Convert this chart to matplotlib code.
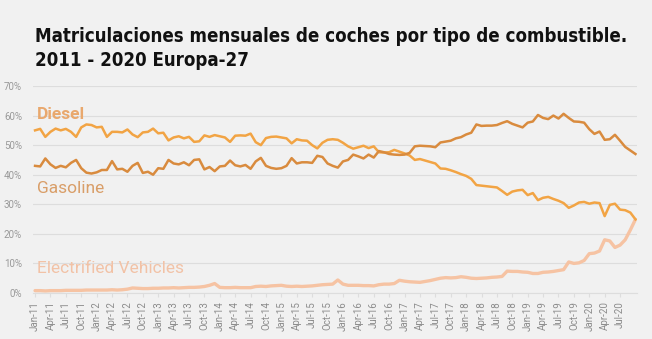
import matplotlib.pyplot as plt
import matplotlib.ticker as ticker
from matplotlib import font_manager
import numpy as np

# Monthly share (%) of new car registrations, Jan-11 .. Oct-20
diesel = [
    55.0, 55.5, 52.8, 54.5, 55.6, 55.0, 55.5, 54.5, 52.8, 56.0, 57.0, 56.8,
    56.0, 56.2, 52.8, 54.5, 54.5, 54.3, 55.3, 53.6, 52.7, 54.3, 54.5, 55.6,
    54.0, 54.2, 51.6, 52.6, 53.0, 52.3, 52.8, 51.1, 51.3, 53.3, 52.8, 53.4,
    53.0, 52.6, 51.1, 53.2, 53.3, 53.2, 53.9, 51.0, 50.0, 52.4, 52.8, 52.9,
    52.6, 52.3, 50.6, 52.0, 51.6, 51.5, 50.0, 48.9, 50.8, 51.8, 52.0, 51.8,
    50.8, 49.6, 48.8, 49.3, 49.8, 49.0, 49.6, 47.6, 47.5, 47.6, 48.4, 47.8,
    47.2, 46.5, 45.0, 45.3, 44.8, 44.3, 43.8, 42.1, 42.0, 41.5, 40.9, 40.2,
    39.6, 38.6, 36.5, 36.3, 36.1, 35.9, 35.7, 34.5, 33.2, 34.3, 34.7, 34.9,
    33.1, 33.8, 31.4, 32.2, 32.5, 31.8, 31.2, 30.4, 28.8, 29.6, 30.6, 30.8,
    30.2, 30.6, 30.4, 26.0, 29.8, 30.2, 28.2, 28.0, 27.2, 24.9,
]
gasoline = [
    43.0, 42.8, 45.5, 43.5, 42.3, 43.0, 42.5, 44.0, 45.0, 42.2, 40.7, 40.4,
    40.8, 41.6, 41.6, 44.6, 41.8, 42.0, 41.0, 43.0, 44.0, 40.6, 41.0, 40.0,
    42.2, 42.0, 45.0, 43.8, 43.5, 44.2, 43.2, 45.0, 45.2, 41.8, 42.6, 41.2,
    42.8, 43.0, 44.8, 43.2, 42.8, 43.3, 42.0, 44.5, 45.7, 43.0, 42.3, 42.0,
    42.2, 43.0, 45.6, 43.8, 44.2, 44.2, 44.0, 46.4, 46.0, 43.8, 43.0, 42.4,
    44.5, 45.0, 46.8, 46.2, 45.5, 46.8, 45.8, 48.0, 47.6, 47.0, 46.8, 46.7,
    46.8, 47.4, 49.6, 49.8, 49.7, 49.6, 49.3, 50.9, 51.2, 51.5, 52.3, 52.7,
    53.6, 54.2, 57.0, 56.5, 56.6, 56.6, 56.8, 57.5, 58.1, 57.2, 56.6, 56.0,
    57.6, 58.0, 60.2, 59.2, 58.8, 60.0, 59.0, 60.6, 59.2, 58.0, 57.9, 57.6,
    55.4, 53.8, 54.6, 51.8, 52.0, 53.5, 51.5, 49.4, 48.2, 47.0,
]
electrified = [
    0.8, 0.8, 0.7, 0.8, 0.8, 0.8, 0.9, 0.9, 0.9, 0.9, 1.0, 1.0,
    1.0, 1.0, 1.0, 1.1, 1.0, 1.1, 1.3, 1.7, 1.6, 1.5, 1.5, 1.6,
    1.6, 1.7, 1.7, 1.8, 1.7, 1.8, 1.9, 1.9, 2.0, 2.2, 2.6, 3.2,
    1.9, 1.8, 1.8, 1.9, 1.8, 1.8, 1.8, 2.2, 2.3, 2.2, 2.4, 2.5,
    2.6, 2.3, 2.2, 2.3, 2.2, 2.3, 2.4, 2.6, 2.8, 2.9, 3.0, 4.4,
    3.0, 2.6, 2.6, 2.6, 2.5, 2.5, 2.4, 2.8, 3.0, 3.0, 3.2, 4.3,
    4.0, 3.8, 3.7, 3.6, 3.9, 4.2, 4.6, 5.0, 5.2, 5.1, 5.2, 5.5,
    5.3, 5.0, 4.9, 5.0, 5.1, 5.3, 5.4, 5.6, 7.4, 7.3, 7.3, 7.1,
    7.0, 6.6, 6.6, 7.0, 7.1, 7.3, 7.6, 7.9, 10.5, 10.0, 10.2, 11.0,
    13.3, 13.5, 14.2, 18.0, 17.6, 15.4, 16.2, 18.0, 21.3, 24.9,
]

months = ["Jan", "Apr", "Jul", "Oct"]
years = list(range(11, 21))
tick_labels = [f"{m}-{y}" for y in years for m in months][:-1]  # up to Jul-20

x = np.arange(len(diesel))


def pick_title_font():
    # the original uses a condensed heavy face; look for any narrow/condensed bold font
    fonts = font_manager.fontManager.ttflist
    for f in fonts:
        if f.name == "Liberation Sans Narrow" and f.weight in ("bold", 700):
            return font_manager.FontProperties(fname=f.fname)
    for f in fonts:
        if ("Condensed" in f.fname or "Narrow" in f.fname) and "Bold" in f.fname:
            return font_manager.FontProperties(fname=f.fname)
    return font_manager.FontProperties(family="DejaVu Sans", weight="bold")


BG = "#f1f1f1"
fig = plt.figure(figsize=(6.52, 3.39), dpi=100, facecolor=BG)

# Title, shrunk to the width of the original
title_fp = pick_title_font()
title = fig.text(0.054, 0.857,
                 "Matriculaciones mensuales de coches por tipo de combustible.\n2011 - 2020 Europa-27",
                 fontproperties=title_fp, fontsize=16, color="#111111",
                 va="center", ha="left", linespacing=1.3)
renderer = fig.canvas.get_renderer()
w = title.get_window_extent(renderer).width
title.set_fontsize(min(16 * 597 / w, 18))

ax = fig.add_axes([33 / 652, 46 / 339, 604 / 652, 207 / 339])
ax.set_facecolor(BG)

ax.plot(x, electrified, color="#f6c3a3", lw=2.4, solid_capstyle="round")
ax.plot(x, diesel, color="#f2a444", lw=1.8)
ax.plot(x, gasoline, color="#d98b3e", lw=1.8)

ax.set_xlim(-0.4, 117.3)
ax.set_ylim(0, 70)
ax.set_yticks(range(0, 71, 10))
ax.yaxis.set_major_formatter(ticker.FuncFormatter(lambda v, pos: f"{v:.0f}%"))
ax.set_xticks(range(0, 3 * len(tick_labels), 3))
ax.set_xticklabels(tick_labels, rotation=90)

ax.grid(axis="y", color="#dddddd", lw=0.8)
ax.set_axisbelow(True)
for side in ["top", "right", "left"]:
    ax.spines[side].set_visible(False)
ax.spines["bottom"].set_color("#dddddd")
ax.tick_params(axis="y", length=0, pad=8, labelsize=7, labelcolor="#999999")
ax.tick_params(axis="x", length=3, color="#dddddd", pad=3, labelsize=7, labelcolor="#8c8c8c")
for lab in ax.get_xticklabels() + ax.get_yticklabels():
    lab.set_family("Roboto")

# Series labels inside the plot
ax.text(0.3, 60.3, "Diesel", fontsize=12.5, fontweight="bold", color="#e9a86d",
        family="Roboto", va="center", ha="left")
ax.text(0.3, 35.5, "Gasoline", fontsize=12.5, color="#d99e68",
        family="Roboto", va="center", ha="left")
ax.text(0.3, 8.2, "Electrified Vehicles", fontsize=12.5, color="#f2c2a6",
        family="Roboto", va="center", ha="left")

fig.savefig("out.png", dpi=100, facecolor=BG)
